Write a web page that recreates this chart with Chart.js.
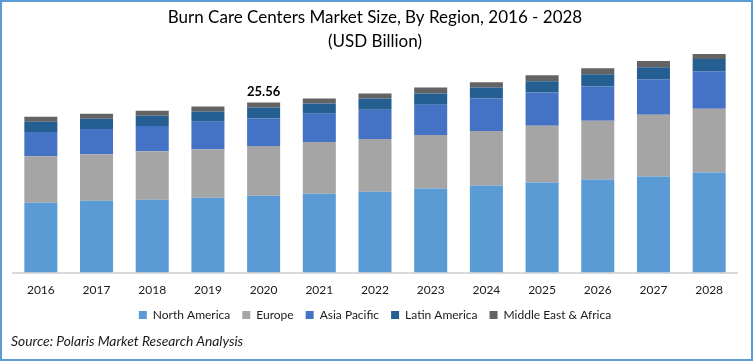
<!DOCTYPE html>
<html>
<head>
<meta charset="utf-8">
<script src="https://cdn.jsdelivr.net/npm/chart.js@4.4.0/dist/chart.umd.min.js"></script>
<style>
  html, body { margin: 0; padding: 0; background: #fff; }
  #wrap { position: relative; width: 753px; height: 361px; overflow: hidden; }
  #frame { position: absolute; left: 0; top: 0; width: 749px; height: 357px; border: 2px solid #5b9bd5; pointer-events: none; }
  #source { position: absolute; left: 11px; top: 332px; font-family: Lato, sans-serif; font-style: italic; font-size: 13.8px; color: #1a1a1a; }
</style>
</head>
<body>
<div id="wrap">
  <canvas id="grafico" width="753" height="361"></canvas>
  <div id="source">Source: Polaris Market Research Analysis</div>
  <div id="frame"></div>
</div>
<script>
const years = ["2016", "2017", "2018", "2019", "2020", "2021", "2022", "2023", "2024", "2025", "2026", "2027", "2028"];
const northAmerica = [10.50, 10.80, 10.95, 11.26, 11.57, 11.87, 12.17, 12.63, 13.08, 13.54, 14.00, 14.45, 15.06];
const europe = [7.00, 7.00, 7.30, 7.30, 7.45, 7.76, 7.91, 8.06, 8.22, 8.52, 8.82, 9.28, 9.58];
const asiaPacific = [3.65, 3.80, 3.80, 4.11, 4.15, 4.26, 4.41, 4.56, 4.87, 5.02, 5.17, 5.32, 5.63];
const latinAmerica = [1.52, 1.52, 1.52, 1.52, 1.63, 1.52, 1.67, 1.67, 1.67, 1.67, 1.83, 1.83, 1.83];
const middleEastAfrica = [0.76, 0.76, 0.76, 0.76, 0.76, 0.76, 0.76, 0.91, 0.76, 0.91, 0.91, 0.91, 0.91];
const labelYear = "2020";

// total label above one bar
const totalLabel = {
  id: "totalLabel",
  afterDatasetsDraw(chart) {
    const i = years.indexOf(labelYear);
    let total = 0;
    chart.data.datasets.forEach((ds) => { total += ds.data[i]; });
    const meta = chart.getDatasetMeta(chart.data.datasets.length - 1);
    const bar = meta.data[i];
    const ctx = chart.ctx;
    ctx.save();
    ctx.font = "bold 13px Lato";
    ctx.fillStyle = "#000";
    ctx.textAlign = "center";
    ctx.textBaseline = "bottom";
    ctx.fillText(total.toFixed(2), bar.x, chart.scales.y.getPixelForValue(total) - 4);
    ctx.restore();
  },
};

const ctx = document.getElementById("grafico").getContext("2d");
new Chart(ctx, {
  type: "bar",
  data: {
    labels: years,
    datasets: [
      { label: "North America", data: northAmerica, backgroundColor: "#5b9bd5" },
      { label: "Europe", data: europe, backgroundColor: "#a5a5a5" },
      { label: "Asia Pacific", data: asiaPacific, backgroundColor: "#4472c4" },
      { label: "Latin America", data: latinAmerica, backgroundColor: "#255e91" },
      { label: "Middle East & Africa", data: middleEastAfrica, backgroundColor: "#636363" },
    ],
  },
  options: {
    responsive: false,
    animation: false,
    layout: { padding: { left: 13, right: 16, top: 0, bottom: 30 } },
    datasets: { bar: { categoryPercentage: 1, barPercentage: 0.593, borderWidth: 0 } },
    scales: {
      x: {
        stacked: true,
        grid: { display: false, drawTicks: false },
        border: { display: true, color: "#d9d9d9", width: 2 },
        ticks: { color: "#1a1a1a", font: { family: "Lato", size: 12 }, padding: 10 },
        afterFit(scale) { scale.height -= 10; },
      },
      y: {
        stacked: true,
        display: false,
        min: 0,
        max: 32.86,
      },
    },
    plugins: {
      title: {
        display: true,
        text: ["Burn Care Centers Market Size, By Region, 2016 - 2028", "(USD Billion)"],
        color: "#000",
        font: { family: "Lato", size: 17, weight: "normal", lineHeight: "24px" },
        padding: { top: 6, bottom: 0 },
      },
      legend: {
        display: true,
        position: "bottom",
        labels: {
          boxWidth: 8,
          boxHeight: 8,
          padding: 12,
          color: "#1a1a1a",
          font: { family: "Lato", size: 12 },
        },
      },
      tooltip: { enabled: false },
    },
  },
  plugins: [totalLabel],
});
</script>
</body>
</html>
